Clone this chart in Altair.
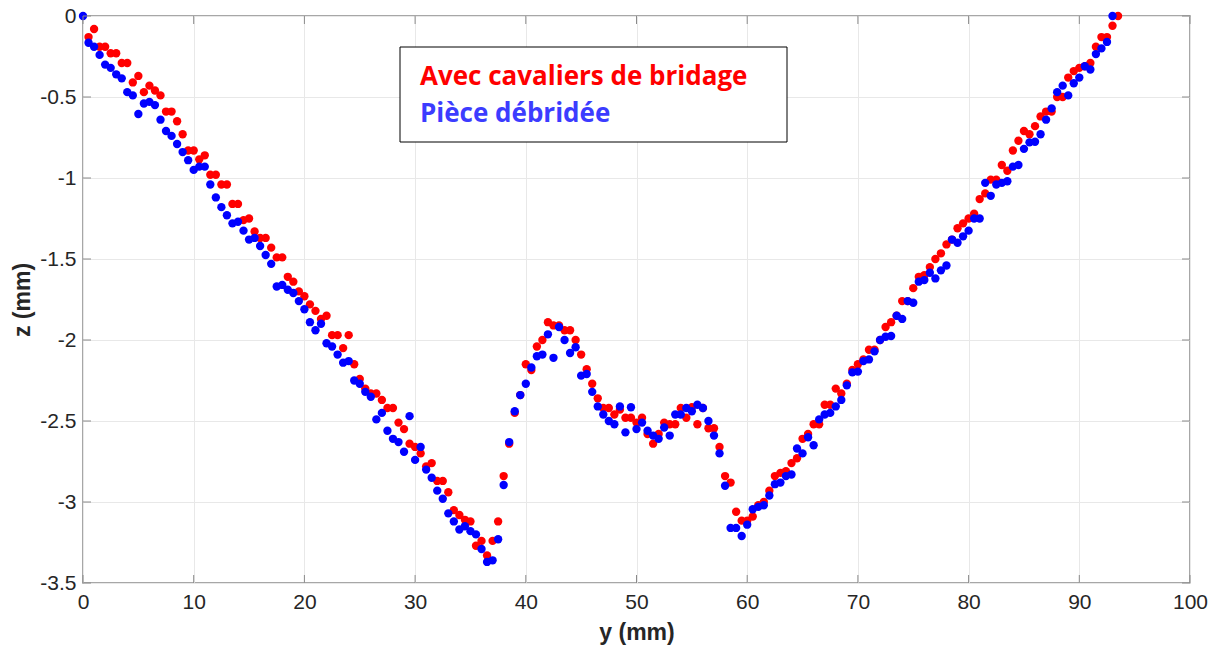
import altair as alt
import pandas as pd

blue_start = 0.0
red_start = 0.5
step = 0.5

blue_z = [
    0.0, -0.165, -0.19, -0.24, -0.30, -0.32, -0.36, -0.385, -0.47, -0.49,
    -0.605, -0.54, -0.53, -0.55, -0.64, -0.71, -0.74, -0.79, -0.84, -0.89,
    -0.95, -0.93, -0.93, -1.04, -1.12, -1.18, -1.23, -1.28, -1.27, -1.325,
    -1.38, -1.37, -1.42, -1.475, -1.53, -1.67, -1.66, -1.69, -1.71, -1.76,
    -1.81, -1.89, -1.94, -1.90, -2.02, -2.04, -2.09, -2.14, -2.13, -2.25,
    -2.27, -2.32, -2.35, -2.49, -2.45, -2.56, -2.61, -2.63, -2.69, -2.47,
    -2.74, -2.66, -2.80, -2.85, -2.93, -2.98, -3.07, -3.12, -3.17, -3.15,
    -3.18, -3.20, -3.29, -3.37, -3.36, -3.23, -2.895, -2.63, -2.44, -2.34,
    -2.27, -2.17, -2.10, -2.09, -1.965, -2.11, -1.92, -2.00, -2.08, -2.045,
    -2.22, -2.21, -2.32, -2.41, -2.46, -2.50, -2.52, -2.41, -2.57, -2.415,
    -2.55, -2.51, -2.56, -2.59, -2.61, -2.54, -2.59, -2.46, -2.46, -2.42,
    -2.44, -2.40, -2.42, -2.50, -2.59, -2.70, -2.90, -3.16, -3.16, -3.21,
    -3.14, -3.045, -3.03, -3.02, -2.96, -2.89, -2.88, -2.84, -2.83, -2.67,
    -2.70, -2.60, -2.65, -2.49, -2.46, -2.45, -2.41, -2.37, -2.28, -2.20,
    -2.195, -2.13, -2.12, -2.07, -2.00, -1.98, -1.975, -1.85, -1.87, -1.76,
    -1.77, -1.64, -1.63, -1.585, -1.62, -1.57, -1.54, -1.38, -1.40, -1.36,
    -1.325, -1.25, -1.25, -1.03, -1.11, -1.04, -1.03, -1.02, -0.93, -0.92,
    -0.82, -0.78, -0.776, -0.73, -0.64, -0.57, -0.47, -0.43, -0.49, -0.415,
    -0.38, -0.31, -0.33, -0.235, -0.20, -0.16, 0.0,
]

red_z = [
    -0.13, -0.08, -0.19, -0.19, -0.23, -0.23, -0.29, -0.29, -0.41,
    -0.37, -0.47, -0.43, -0.46, -0.49, -0.59, -0.59, -0.65, -0.73, -0.83,
    -0.83, -0.885, -0.86, -0.98, -0.98, -1.04, -1.04, -1.16, -1.16, -1.26,
    -1.25, -1.33, -1.37, -1.37, -1.43, -1.49, -1.49, -1.61, -1.64, -1.70,
    -1.73, -1.78, -1.82, -1.87, -1.85, -1.97, -1.97, -2.05, -1.97, -2.15,
    -2.24, -2.30, -2.33, -2.33, -2.37, -2.42, -2.42, -2.51, -2.55, -2.64,
    -2.66, -2.70, -2.78, -2.76, -2.87, -2.87, -2.94, -3.05, -3.08, -3.11,
    -3.12, -3.27, -3.24, -3.33, -3.24, -3.12, -2.84, -2.64, -2.45, -2.34,
    -2.15, -2.185, -2.04, -2.00, -1.89, -1.91, -1.91, -1.94, -1.94, -2.00,
    -2.09, -2.18, -2.27, -2.36, -2.42, -2.42, -2.46, -2.43, -2.48, -2.48,
    -2.51, -2.48, -2.58, -2.64, -2.58, -2.51, -2.52, -2.52, -2.42, -2.48,
    -2.415, -2.52, -2.42, -2.545, -2.545, -2.66, -2.84, -2.88, -3.06, -3.115,
    -3.115, -3.09, -3.02, -3.00, -2.93, -2.84, -2.82, -2.81, -2.76, -2.73,
    -2.61, -2.58, -2.52, -2.52, -2.40, -2.40, -2.30, -2.33, -2.27, -2.185,
    -2.15, -2.12, -2.06, -2.06, -2.00, -1.92, -1.89, -1.85, -1.76, -1.76,
    -1.68, -1.61, -1.60, -1.55, -1.50, -1.465, -1.41, -1.38, -1.31, -1.28,
    -1.25, -1.22, -1.13, -1.095, -1.01, -1.01, -0.92, -0.955, -0.83, -0.77,
    -0.71, -0.73, -0.68, -0.62, -0.59, -0.59, -0.50, -0.50, -0.38, -0.34,
    -0.32, -0.31, -0.29, -0.19, -0.13, -0.13, -0.06, 0.0,
]

series_names = ["Avec cavaliers de bridage", "Pièce débridée"]
series_colors = ["#ff0000", "#0000ff"]
legend_colors = ["#ff0000", "#3c3cff"]
x_ticks = [0, 10, 20, 30, 40, 50, 60, 70, 80, 90, 100]
y_ticks = [0, -0.5, -1, -1.5, -2, -2.5, -3, -3.5]

W, H = 1107, 567
FONT = "Liberation Sans"
AXC = "#8a8a8a"

red_df = pd.DataFrame({"y": [red_start + i * step for i in range(len(red_z))], "z": red_z})
blue_df = pd.DataFrame({"y": [blue_start + i * step for i in range(len(blue_z))], "z": blue_z})

xs = alt.Scale(domain=[0, 100], nice=False, zero=False)
ys = alt.Scale(domain=[-3.5, 0], nice=False, zero=False)

x_axis = alt.Axis(
    values=x_ticks, grid=True, gridColor="#e8e8e8", ticks=False, domain=False,
    labelFlush=False,
    labelFont=FONT, labelFontSize=21, labelColor="#262626", labelPadding=8,
    title="y (mm)", titleFont=FONT, titleFontSize=23, titleFontWeight="bold",
    titleColor="#262626", titlePadding=9,
)
y_axis = alt.Axis(
    values=y_ticks, grid=True, gridColor="#e8e8e8", ticks=False, domain=False,
    labelFlush=False,
    labelFont=FONT, labelFontSize=21, labelColor="#262626", labelPadding=7,
    labelExpr="toString(datum.value)",
    title="z (mm)", titleFont=FONT, titleFontSize=23, titleFontWeight="bold",
    titleColor="#262626", titlePadding=5,
)

red = alt.Chart(red_df).mark_circle(size=70, opacity=1, color=series_colors[0]).encode(
    x=alt.X("y:Q", scale=xs, axis=x_axis),
    y=alt.Y("z:Q", scale=ys, axis=y_axis),
)
blue = alt.Chart(blue_df).mark_circle(size=70, opacity=1, color=series_colors[1]).encode(
    x=alt.X("y:Q", scale=xs),
    y=alt.Y("z:Q", scale=ys),
)

xt = pd.DataFrame({"t": x_ticks})
yt = pd.DataFrame({"t": y_ticks})
tick_bottom = alt.Chart(xt).mark_rule(color=AXC, strokeWidth=1).encode(
    x=alt.X("t:Q", scale=xs), y=alt.value(H), y2=alt.value(H - 8))
tick_top = alt.Chart(xt).mark_rule(color=AXC, strokeWidth=1).encode(
    x=alt.X("t:Q", scale=xs), y=alt.value(0), y2=alt.value(8))
tick_left = alt.Chart(yt).mark_rule(color=AXC, strokeWidth=1).encode(
    y=alt.Y("t:Q", scale=ys), x=alt.value(0), x2=alt.value(8))
tick_right = alt.Chart(yt).mark_rule(color=AXC, strokeWidth=1).encode(
    y=alt.Y("t:Q", scale=ys), x=alt.value(W), x2=alt.value(W - 8))

box = alt.Chart(pd.DataFrame({"a": [0]})).mark_rect(
    fill="white", stroke="#000000", strokeWidth=1
).encode(x=alt.value(317), x2=alt.value(704), y=alt.value(31), y2=alt.value(126))

leg1 = alt.Chart(pd.DataFrame({"name": [series_names[0]]})).mark_text(
    font="Open Sans", fontSize=26, fontWeight="bold", align="left",
    baseline="alphabetic", color=legend_colors[0]
).encode(x=alt.value(337), y=alt.value(69), text="name:N")
leg2 = alt.Chart(pd.DataFrame({"name": [series_names[1]]})).mark_text(
    font="Open Sans", fontSize=26, fontWeight="bold", align="left",
    baseline="alphabetic", color=legend_colors[1]
).encode(x=alt.value(337), y=alt.value(106), text="name:N")

chart = alt.layer(
    red, blue, tick_bottom, tick_top, tick_left, tick_right, box, leg1, leg2
).properties(
    width=W, height=H,
    autosize=alt.AutoSizeParams(type="none"),
    padding={"left": 75, "top": 8, "right": 21, "bottom": 70},
    background="white",
).configure_view(stroke=AXC, strokeWidth=1.5)

chart.save("out.html", embed_options={"renderer": "svg", "actions": False})
